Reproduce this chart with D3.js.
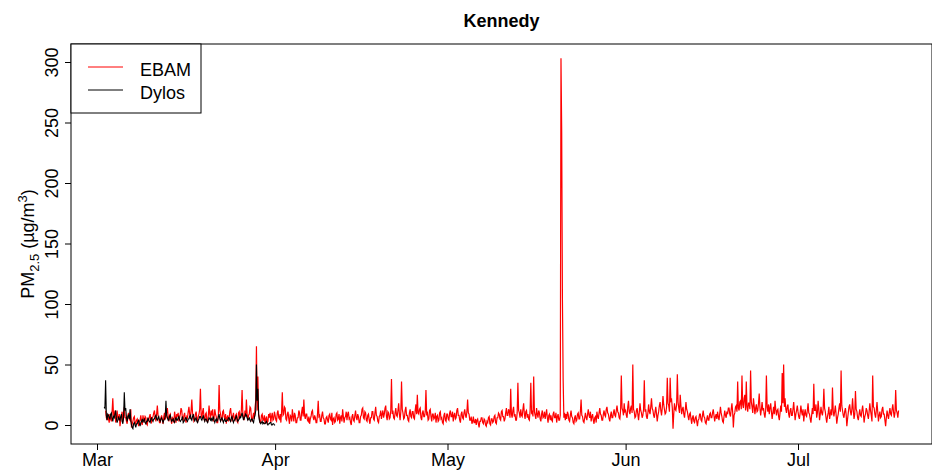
<!DOCTYPE html>
<html>
<head>
<meta charset="utf-8">
<script src="https://cdn.jsdelivr.net/npm/d3@7"></script>
<style>
  body { margin: 0; background: #fff; }
  svg { font-family: Arial, "Liberation Sans", sans-serif; }
</style>
</head>
<body>
<div class="chart"></div>
<script>
// 3-hourly readings, one row per day
let ebamMar = [
  12, 6, 4, 9,
  5, 2, 9, 6, 3, 11, 22, 8,
  7, 12, 2, 5, 12, 6, 4, 9,
  -1, 4, 8, 11, 3, 7, 15, 6,
  6, 3, 1, 8, 10, 5, 4, 13,
  -2, 1, 3, 6, 7, 2, 1, 4,
  5, 2, -1, 3, 4, 8, 2, 0,
  8, 4, 3, 7, 6, 1, 0, 5,
  4, 7, 9, 3, 2, 6, 7, 10,
  12, 6, 3, 9, 16, 8, 5, 2,
  2, 6, 8, 4, 1, 7, 10, 5,
  6, 11, 14, 7, 3, 8, 9, 4,
  1, 6, 5, 2, 11, 7, 2, 9,
  7, 10, 3, 6, 9, 14, 12, 5,
  4, 8, 10, 5, 2, 7, 6, 11,
  15, 9, 5, 12, 21, 10, 8, 3,
  4, 9, 11, 6, 2, 7, 9, 13,
  30, 8, 6, 11, 14, 5, 3, 9,
  10, 4, 2, 8, 16, 9, 5, 12,
  8, 13, 3, 6, 13, 9, 7, 2,
  2, 9, 33, 12, 9, 5, 4, 11,
  12, 7, 5, 9, 1, 6, 8, 3,
  6, 11, 14, 8, 3, 7, 10, 5,
  4, 8, 9, 3, 2, 10, 11, 6,
  8, 12, 29, 10, 6, 4, 12, 7,
  21, 9, 4, 8, 9, 15, 14, 6,
  3, 7, 10, 5, 14, 20, 65, 12,
  40, 9, 6, 2, 2, 8, 9, 4,
  4, 8, 1, 5, 7, 2, 3, 9,
  6, 10, 2, 7, 10, 4, 5, 11
];
let ebamApr = [
  8, 4, 3, 10, 12, 6, 5, 9,
  2, 11, 27, 8, 9, 15, 14, 5,
  4, 9, 11, 5, 1, 8, 7, 3,
  13, 7, 3, 10, 8, 2, 2, 6,
  6, 12, 10, 4, 4, 11, 15, 7,
  21, 8, 5, 9, 9, 4, 3, 7,
  1, 5, 7, 11, 12, 6, 4, 8,
  6, 2, 2, 9, 20, 7, 8, 3,
  3, 8, 11, 6, 5, 1, 1, 6,
  7, 4, 2, 8, 9, 5, 4, 10,
  0, 5, 6, 2, 3, 9, 10, 4,
  5, 9, 1, 6, 8, 3, 13, 7,
  2, 6, 7, 11, 4, 9, 11, 5,
  6, 2, 0, 7, 9, 4, 3, 8,
  12, 6, 4, 9, 7, 2, 2, 7,
  8, 13, 14, 6, 5, 11, 10, 4,
  3, 8, 9, 4, 1, 6, 6, 11,
  11, 5, 4, 10, 15, 8, 7, 3,
  2, 7, 8, 12, 5, 9, 12, 6,
  9, 14, 16, 7, 4, 11, 10, 5,
  6, 12, 38, 9, 12, 6, 5, 10,
  14, 8, 7, 12, 18, 9, 4, 11,
  36, 13, 10, 5, 6, 12, 15, 8,
  8, 4, 3, 10, 13, 7, 6, 11,
  11, 6, 5, 12, 17, 9, 25, 10,
  9, 13, 14, 6, 4, 10, 12, 7,
  7, 11, 29, 9, 10, 4, 5, 12,
  13, 7, 3, 9, 9, 5, 6, 10,
  2, 7, 8, 3, 4, 10, 11, 5,
  6, 2, 1, 8, 10, 4, 3, 9
];
let ebamMay = [
  9, 5, 4, 10, 12, 7, 7, 11,
  3, 8, 10, 5, 6, 12, 14, 8,
  8, 4, 2, 9, 11, 6, 5, 10,
  13, 8, 6, 11, 21, 10, 9, 4,
  4, 7, 1, 3, 7, 2, 2, 5,
  0, 4, 5, 1, -2, 3, 3, 6,
  6, 2, 1, 5, 4, 0, -1, 3,
  2, 6, 7, 1, 0, 5, 5, 2,
  3, 7, 8, 2, 1, 6, 6, 10,
  9, 5, 4, 11, 12, 7, 7, 3,
  5, 10, 14, 8, 8, 13, 11, 6,
  30, 9, 6, 12, 15, 7, 9, 4,
  4, 10, 35, 12, 10, 6, 13, 8,
  7, 13, 18, 9, 5, 11, 12, 6,
  9, 5, 4, 12, 35, 10, 11, 7,
  40, 11, 8, 5, 14, 9, 6, 12,
  10, 5, 3, 9, 12, 6, 7, 11,
  5, 9, 13, 6, 2, 8, 9, 4,
  8, 4, 3, 9, 11, 6, 6, 10,
  2, 7, 9, 4, 4, 8, 303, 242,
  105, 38, 6, 10, 4, 9, 5, 11,
  9, 4, 3, 8, 12, 7, 6, 2,
  1, 6, 8, 3, 4, 9, 10, 5,
  5, 11, 21, 8, 7, 3, 2, 6,
  10, 6, 4, 9, 13, 8, 6, 11,
  3, 7, 9, 4, 1, 6, 7, 2,
  11, 7, 5, 10, 14, 9, 8, 4,
  4, 9, 12, 8, 7, 13, 15, 10,
  9, 5, 3, 8, 11, 6, 6, 10,
  13, 8, 7, 12, 16, 11, 10, 6,
  5, 12, 41, 14, 12, 8, 18, 11
];
let ebamJun = [
  12, 8, 6, 15, 20, 11, 9, 14,
  16, 10, 50, 13, 11, 6, 7, 12,
  14, 9, 4, 10, 18, 12, 10, 6,
  8, 13, 37, 11, 13, 7, 5, 10,
  17, 11, 9, 15, 22, 14, 12, 8,
  6, 11, 15, 9, 3, 8, 11, 16,
  19, 12, 8, 14, 24, 17, 13, 9,
  10, 15, 39, 18, 16, 11, 39, 20,
  21, 14, -3, 9, 18, 13, 12, 17,
  42, 19, 14, 10, 25, 16, 9, 13,
  15, 9, 6, 12, 19, 13, 11, 7,
  4, 9, 10, 5, 1, 6, 8, 3,
  2, 6, 7, 3, -1, 4, 5, 9,
  9, 4, 3, 8, 12, 7, 6, 2,
  1, 5, 8, 4, 4, 9, 10, 6,
  6, 10, 13, 8, 3, 7, 9, 5,
  11, 7, 4, 9, 15, 10, 7, 3,
  2, 7, 12, 8, 6, 11, 9, 14,
  14, 9, 7, 13, 18, 11, -2, 8,
  10, 15, 16, 11, 36, 14, 12, 19,
  20, 13, 41, 17, 14, 22, 25, 12,
  36, 15, 11, 18, 18, 13, 45, 19,
  15, 10, 22, 16, 9, 14, 17, 11,
  12, 18, 26, 14, 8, 13, 19, 12,
  14, 9, 6, 12, 41, 15, 11, 17,
  9, 14, 18, 11, 5, 10, 15, 9,
  20, 13, 8, 12, 13, 7, 4, 10,
  16, 11, 43, 18, 50, 15, 22, 13,
  10, 15, 17, 9, 6, 12, 14, 8,
  8, 13, 19, 11, 4, 9, 12, 16
];
let ebamJul = [
  11, 7, 5, 10, 16, 11, 8, 13,
  3, 9, 13, 8, 7, 12, 18, 10,
  9, 5, 2, 8, 14, 9, 34, 12,
  12, 17, 6, 10, 20, 13, 4, 9,
  15, 10, 8, 13, 30, 14, 11, 6,
  2, 7, 10, 15, 5, 9, 13, 8,
  31, 12, 7, 11, 16, 9, 1, 6,
  9, 14, 18, 11, 45, 16, 12, 8,
  6, 11, 14, 9, -1, 5, 10, 15,
  17, 11, 8, 13, 22, 12, 5, 9,
  28, 13, 11, 6, 4, 9, 13, 8,
  7, 12, 16, 10, 2, 7, 9, 14,
  12, 8, 5, 11, 18, 12, 8, 3,
  41, 15, 14, 9, 6, 12, 19, 11,
  3, 8, 11, 6, 7, 13, 15, 9,
  9, 4, -1, 6, 12, 8, 5, 10,
  14, 9, 8, 13, 17, 11, 6, 10,
  29, 12, 10, 6, 12
];
let dylosMar = [
  15, 14, 37, 8, 4, 9,
  8, 6, 5, 9, 10, 6, 3, 7,
  6, 9, 12, 5, 2, 4, 7, 5,
  4, 7, 9, 3, 1, 6, 27, 12,
  14, 6, 3, 7, 8, 5, 13, 4,
  0, -2, -3, 1, 2, 0, -2, 1,
  1, 3, 4, 1, -1, 2, 3, 5,
  2, 4, 5, 2, 1, 3, 3, 6,
  4, 3, 2, 5, 6, 4, 3, 5,
  5, 7, 8, 5, 4, 6, 7, 4,
  3, 5, 6, 4, 2, 4, 5, 7,
  20, 8, 6, 4, 4, 7, 8, 5,
  3, 4, 5, 3, 2, 5, 6, 4,
  4, 6, 7, 4, 3, 4, 5, 7,
  2, 3, 4, 6, 6, 4, 3, 5,
  5, 7, 8, 5, 4, 7, 9, 6,
  3, 5, 6, 3, 2, 4, 5, 7,
  7, 5, 4, 6, 8, 5, 3, 5,
  5, 3, 2, 4, 6, 5, 4, 6,
  3, 5, 7, 4, 2, 4, 5, 3,
  4, 7, 9, 5, 3, 5, 6, 4,
  2, 4, 5, 3, 3, 4, 4, 6,
  6, 4, 3, 6, 7, 4, 2, 4,
  4, 6, 8, 5, 3, 4, 5, 7,
  6, 8, 10, 7, 4, 6, 7, 9,
  8, 6, 4, 5, 6, 4, 3, 5,
  5, 3, 2, 6, 8, 12, 50, 20,
  30, 9, 4, 2, 1, 2, 3, 1,
  2, 1, 1, 2, 3, 1, 0, 1,
  1, 2, 2, 0, 0, 1, 1, 0,
  0
];
let monthNames = ['Mar', 'Apr', 'May', 'Jun', 'Jul'];
let yTicks = [0, 50, 100, 150, 200, 250, 300];

let year = 2015;
let stepHours = 3;
function series(start, values) {
  return values.map((v, i) => ({date: d3.timeHour.offset(start, i * stepHours), value: v}));
}
let ebam = [].concat(
  series(new Date(year, 2, 2, 12), ebamMar),
  series(new Date(year, 3, 1), ebamApr),
  series(new Date(year, 4, 1), ebamMay),
  series(new Date(year, 5, 1), ebamJun),
  series(new Date(year, 6, 1), ebamJul)
);
let dylos = series(new Date(year, 2, 2, 6), dylosMar);
let monthTicks = monthNames.map((m, i) => new Date(year, 2 + i, 1));

let fullWidth = 932, fullHeight = 470;
let plot = {left: 71, right: 932, top: 44, bottom: 444};

let svg = d3.select('.chart')
  .append('svg')
    .attr('width', fullWidth)
    .attr('height', fullHeight);

let x = d3.scaleTime()
  .domain([new Date(year, 2, 1), new Date(year, 6, 1)])
  .range([97, 798]);

let y = d3.scaleLinear()
  .domain([0, 300])
  .range([425, 62]);

let line = d3.line()
  .x(d => x(d.date))
  .y(d => y(d.value));

svg.append('path')
  .datum(ebam)
  .attr('d', line)
  .attr('fill', 'none')
  .attr('stroke', '#ff0000')
  .attr('stroke-width', 1.2);

svg.append('path')
  .datum(dylos)
  .attr('d', line)
  .attr('fill', 'none')
  .attr('stroke', '#000')
  .attr('stroke-width', 1.1);

// plot box
svg.append('rect')
  .attr('x', plot.left)
  .attr('y', plot.top)
  .attr('width', plot.right - plot.left)
  .attr('height', plot.bottom - plot.top)
  .attr('fill', 'none')
  .attr('stroke', '#000');

let xAxis = d3.axisBottom(x)
  .tickValues(monthTicks)
  .tickFormat(d3.timeFormat('%b'))
  .tickSize(6);
svg.append('g')
  .attr('transform', `translate(0, ${plot.bottom})`)
  .call(xAxis)
  .call(g => g.select('.domain').remove())
  .call(g => g.selectAll('text')
    .attr('y', 22).attr('dy', null)
    .attr('fill', '#000')
    .style('font-size', '18px')
    .style('font-family', 'Arial, "Liberation Sans", sans-serif'));

let yAxis = d3.axisLeft(y)
  .tickValues(yTicks)
  .tickSize(6);
svg.append('g')
  .attr('transform', `translate(${plot.left}, 0)`)
  .call(yAxis)
  .call(g => g.select('.domain').remove())
  .call(g => g.selectAll('text')
    .attr('x', null).attr('dy', null)
    .attr('transform', 'translate(-13, 0) rotate(-90)')
    .attr('text-anchor', 'middle')
    .attr('fill', '#000')
    .style('font-size', '18px')
    .style('font-family', 'Arial, "Liberation Sans", sans-serif'));

// title
svg.append('text')
  .attr('x', (plot.left + plot.right) / 2)
  .attr('y', 27)
  .attr('text-anchor', 'middle')
  .style('font-size', '18px')
  .style('font-weight', 'bold')
  .text('Kennedy');

// y label
let ylab = svg.append('text')
  .attr('transform', `translate(34, ${(plot.top + plot.bottom) / 2}) rotate(-90)`)
  .attr('text-anchor', 'middle')
  .style('font-size', '18px');
ylab.append('tspan').text('PM');
ylab.append('tspan').text('2.5').style('font-size', '13px').attr('dy', 5);
ylab.append('tspan').text(' (\u00b5g/m').attr('dy', -5);
ylab.append('tspan').text('3').style('font-size', '13px').attr('dy', -7);
ylab.append('tspan').text(')').attr('dy', 7);

// legend
let legendItems = [{name: 'EBAM', color: '#ff0000'}, {name: 'Dylos', color: '#000'}];
svg.append('rect')
  .attr('x', plot.left)
  .attr('y', plot.top)
  .attr('width', 130)
  .attr('height', 69)
  .attr('fill', '#fff')
  .attr('stroke', '#000');
let legend = svg.selectAll('.legend-item')
  .data(legendItems)
  .enter().append('g')
    .attr('class', 'legend-item')
    .attr('transform', (d, i) => `translate(${plot.left}, ${plot.top + 23 + i * 23})`);
legend.append('line')
  .attr('x1', 17).attr('x2', 52)
  .attr('stroke', d => d.color)
  .attr('stroke-width', 1);
legend.append('text')
  .attr('x', 69)
  .attr('y', 8.5)
  .style('font-size', '18px')
  .text(d => d.name);
</script>
</body>
</html>
